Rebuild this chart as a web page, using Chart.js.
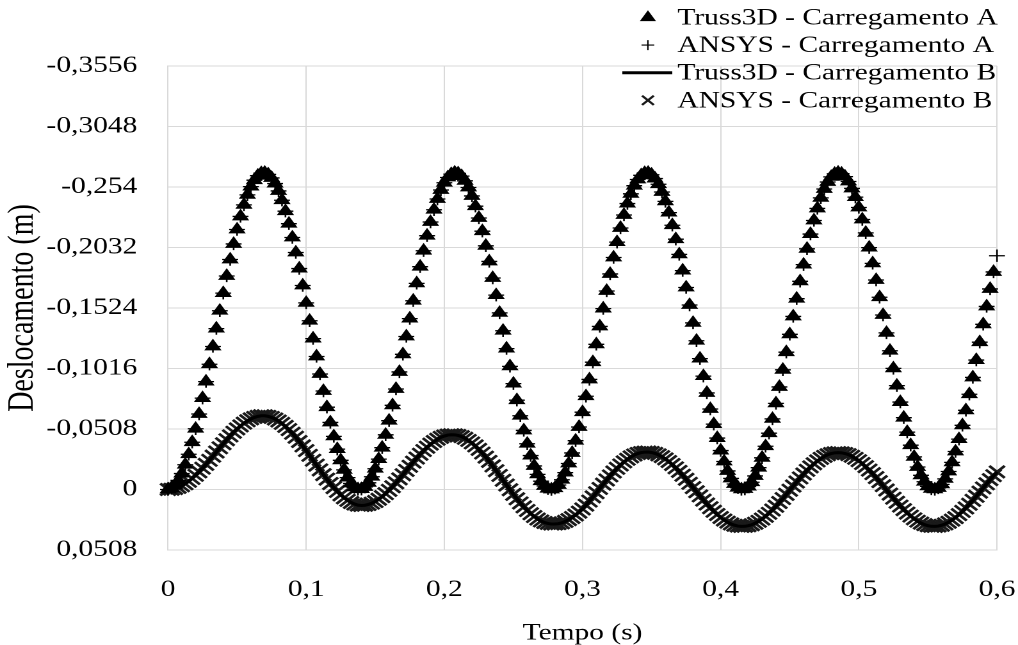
<!DOCTYPE html>
<html lang="pt">
<head>
<meta charset="utf-8">
<title>Deslocamento x Tempo</title>
<script src="https://cdn.jsdelivr.net/npm/chart.js@4.4.1/dist/chart.umd.min.js"></script>
<style>
  html, body { margin: 0; padding: 0; background: #fff; overflow: hidden; }
  /* the chart is laid out at 795 px and widened to the full 1018 px page */
  #quadro {
    position: absolute; left: 0; top: 0;
    width: 795px; height: 645px;
    transform: scaleX(1.2805); transform-origin: 0 0;
  }
</style>
</head>
<body>
<div id="quadro"><canvas id="grafico"></canvas></div>
<script>
// time step of the sampled responses (s)
const PASSO = 0.0025;

// vertical displacement (m), load case A, one value per time step from 0 to 0.6 s
const dispA = [
  0, -0.0009, -0.0034, -0.0076, -0.0134, -0.0208, -0.0296, -0.0397, -0.0510, -0.0634,
  -0.0767, -0.0906, -0.1052, -0.1201, -0.1351, -0.1501, -0.1649, -0.1793, -0.1931, -0.2062,
  -0.2183, -0.2293, -0.2390, -0.2474, -0.2543, -0.2597, -0.2635, -0.2656, -0.2659, -0.2646,
  -0.2616, -0.2569, -0.2507, -0.2429, -0.2337, -0.2232, -0.2116, -0.1990, -0.1855, -0.1713,
  -0.1567, -0.1417, -0.1267, -0.1117, -0.0970, -0.0827, -0.0691, -0.0563, -0.0446, -0.0339,
  -0.0245, -0.0165, -0.0100, -0.0051, -0.0018, -0.0002, -0.0003, -0.0021, -0.0056, -0.0107,
  -0.0174, -0.0255, -0.0351, -0.0459, -0.0578, -0.0707, -0.0844, -0.0987, -0.1135, -0.1285,
  -0.1435, -0.1585, -0.1731, -0.1871, -0.2005, -0.2131, -0.2246, -0.2349, -0.2439, -0.2515,
  -0.2576, -0.2620, -0.2648, -0.2660, -0.2654, -0.2631, -0.2592, -0.2536, -0.2465, -0.2379,
  -0.2280, -0.2169, -0.2046, -0.1915, -0.1776, -0.1632, -0.1483, -0.1333, -0.1183, -0.1034,
  -0.0889, -0.0750, -0.0619, -0.0496, -0.0384, -0.0285, -0.0198, -0.0127, -0.0070, -0.0030,
  -0.0007, 0.0000, -0.0011, -0.0038, -0.0082, -0.0142, -0.0218, -0.0307, -0.0410, -0.0525,
  -0.0649, -0.0783, -0.0924, -0.1069, -0.1219, -0.1369, -0.1519, -0.1667, -0.1810, -0.1948,
  -0.2077, -0.2196, -0.2305, -0.2401, -0.2483, -0.2551, -0.2603, -0.2638, -0.2657, -0.2659,
  -0.2643, -0.2611, -0.2563, -0.2498, -0.2419, -0.2325, -0.2219, -0.2102, -0.1974, -0.1838,
  -0.1696, -0.1549, -0.1399, -0.1249, -0.1099, -0.0952, -0.0811, -0.0676, -0.0549, -0.0432,
  -0.0327, -0.0235, -0.0156, -0.0093, -0.0046, -0.0015, -0.0001, -0.0004, -0.0024, -0.0061,
  -0.0114, -0.0183, -0.0266, -0.0363, -0.0473, -0.0593, -0.0723, -0.0861, -0.1005, -0.1153,
  -0.1303, -0.1453, -0.1602, -0.1748, -0.1888, -0.2021, -0.2145, -0.2259, -0.2360, -0.2449,
  -0.2523, -0.2582, -0.2625, -0.2651, -0.2660, -0.2652, -0.2627, -0.2586, -0.2528, -0.2455,
  -0.2368, -0.2267, -0.2155, -0.2031, -0.1899, -0.1759, -0.1614, -0.1465, -0.1315, -0.1165,
  -0.1017, -0.0872, -0.0734, -0.0603, -0.0482, -0.0372, -0.0274, -0.0189, -0.0119, -0.0065,
  -0.0026, -0.0005, -0.0001, -0.0013, -0.0043, -0.0089, -0.0151, -0.0228, -0.0319, -0.0423,
  -0.0539, -0.0665, -0.0800, -0.0941, -0.1087, -0.1237, -0.1387, -0.1537, -0.1684, -0.1827,
  -0.1963
];

// vertical displacement (m), load case B, same time steps
const dispB = [
  0, -0.0002, -0.0008, -0.0018, -0.0031, -0.0048, -0.0069, -0.0093, -0.0119, -0.0148,
  -0.0179, -0.0211, -0.0245, -0.0280, -0.0315, -0.0350, -0.0384, -0.0418, -0.0450, -0.0481,
  -0.0509, -0.0534, -0.0557, -0.0577, -0.0593, -0.0605, -0.0614, -0.0619, -0.0619, -0.0614,
  -0.0605, -0.0592, -0.0575, -0.0555, -0.0530, -0.0503, -0.0472, -0.0439, -0.0403, -0.0366,
  -0.0327, -0.0287, -0.0246, -0.0205, -0.0165, -0.0125, -0.0087, -0.0050, -0.0016, 0.0016,
  0.0045, 0.0070, 0.0091, 0.0109, 0.0122, 0.0131, 0.0134, 0.0132, 0.0126, 0.0115,
  0.0101, 0.0082, 0.0060, 0.0035, 0.0007, -0.0023, -0.0056, -0.0089, -0.0124, -0.0160,
  -0.0195, -0.0230, -0.0264, -0.0296, -0.0327, -0.0355, -0.0381, -0.0403, -0.0422, -0.0438,
  -0.0449, -0.0457, -0.0460, -0.0459, -0.0454, -0.0444, -0.0430, -0.0412, -0.0391, -0.0366,
  -0.0337, -0.0306, -0.0272, -0.0236, -0.0198, -0.0158, -0.0118, -0.0078, -0.0038, 0.0002,
  0.0041, 0.0078, 0.0113, 0.0146, 0.0176, 0.0204, 0.0227, 0.0248, 0.0264, 0.0277,
  0.0285, 0.0290, 0.0290, 0.0287, 0.0280, 0.0268, 0.0253, 0.0235, 0.0214, 0.0190,
  0.0163, 0.0131, 0.0097, 0.0062, 0.0027, -0.0009, -0.0045, -0.0080, -0.0114, -0.0147,
  -0.0178, -0.0206, -0.0232, -0.0254, -0.0274, -0.0290, -0.0302, -0.0310, -0.0314, -0.0315,
  -0.0311, -0.0303, -0.0291, -0.0276, -0.0257, -0.0235, -0.0210, -0.0182, -0.0152, -0.0120,
  -0.0086, -0.0052, -0.0016, 0.0019, 0.0054, 0.0089, 0.0122, 0.0153, 0.0183, 0.0210,
  0.0235, 0.0256, 0.0274, 0.0289, 0.0300, 0.0307, 0.0310, 0.0309, 0.0304, 0.0296,
  0.0283, 0.0267, 0.0248, 0.0225, 0.0200, 0.0172, 0.0141, 0.0109, 0.0076, 0.0041,
  0.0006, -0.0029, -0.0063, -0.0097, -0.0130, -0.0161, -0.0190, -0.0216, -0.0240, -0.0261,
  -0.0278, -0.0292, -0.0302, -0.0308, -0.0310, -0.0308, -0.0302, -0.0293, -0.0279, -0.0262,
  -0.0242, -0.0218, -0.0192, -0.0163, -0.0133, -0.0100, -0.0066, -0.0032, 0.0004, 0.0039,
  0.0073, 0.0107, 0.0139, 0.0169, 0.0198, 0.0223, 0.0246, 0.0266, 0.0282, 0.0295,
  0.0304, 0.0309, 0.0310, 0.0307, 0.0300, 0.0289, 0.0275, 0.0257, 0.0236, 0.0211,
  0.0184, 0.0155, 0.0124, 0.0091, 0.0057, 0.0022, -0.0013, -0.0048, -0.0083, -0.0116,
  -0.0148
];

// the Truss3D run for case A stops one step before 0.6 s
const nTruss3DA = 240;

// series names
const nomesSeries = [
  'Truss3D - Carregamento A',
  'ANSYS - Carregamento A',
  'Truss3D - Carregamento B',
  'ANSYS - Carregamento B'
];

// axis ticks and their labels
const ticksTempo = [0, 0.1, 0.2, 0.3, 0.4, 0.5, 0.6];
const rotulosTempo = ['0', '0,1', '0,2', '0,3', '0,4', '0,5', '0,6'];
const ticksDesloc = [-0.3556, -0.3048, -0.254, -0.2032, -0.1524, -0.1016, -0.0508, 0, 0.0508];
const rotulosDesloc = ['-0,3556', '-0,3048', '-0,254', '-0,2032', '-0,1524', '-0,1016', '-0,0508', '0', '0,0508'];

// time instants of the samples
const tempo = dispA.map((_, i) => Math.round(i * PASSO * 10000) / 10000);
const pontos = (valores, n) => valores.slice(0, n).map((v, i) => ({ x: tempo[i], y: v }));

const FONTE = '"Liberation Serif", "Times New Roman", serif';
const CINZA_GRADE = '#d9d9d9';

// legend drawn as a list in the upper right corner, overlapping the plot frame
const legendaSeries = {
  id: 'legendaSeries',
  afterDraw(chart) {
    const ctx = chart.ctx;
    const xMarca = 506, xLinha0 = 486, xLinha1 = 525, xTexto = 529;
    const y0 = 17.5, dy = 27.6;
    ctx.save();
    ctx.font = '23px ' + FONTE;
    ctx.textBaseline = 'middle';
    ctx.textAlign = 'left';
    chart.data.datasets.forEach((ds, k) => {
      const y = y0 + k * dy;
      ctx.fillStyle = '#000';
      ctx.strokeStyle = ds.borderColor;
      if (ds.showLine) {
        ctx.lineWidth = ds.borderWidth;
        ctx.beginPath();
        ctx.moveTo(xLinha0, y);
        ctx.lineTo(xLinha1, y);
        ctx.stroke();
      } else {
        ctx.lineWidth = ds.legendBorder;
        ctx.fillStyle = ds.pointBackgroundColor;
        Chart.helpers.drawPoint(ctx, {
          pointStyle: ds.pointStyle,
          radius: ds.legendRadius,
          borderWidth: ds.legendBorder,
          rotation: 0
        }, xMarca, y);
      }
      ctx.fillStyle = '#000';
      ctx.fillText(ds.label, xTexto, y + 1);
    });
    ctx.restore();
  }
};

// keep the plot frame independent of the edge tick labels
const semFolgaRotulos = s => { s.paddingLeft = 0; s.paddingRight = 0; s.paddingTop = 0; s.paddingBottom = 0; };

new Chart(document.getElementById('grafico'), {
  type: 'line',
  data: {
    datasets: [
      {
        label: nomesSeries[0],
        data: pontos(dispA, nTruss3DA),
        showLine: false,
        pointStyle: 'triangle',
        pointRadius: 6.8,
        legendRadius: 6.3,
        legendBorder: 1,
        pointBackgroundColor: '#000',
        pointBorderColor: '#000',
        borderColor: '#000',
        pointBorderWidth: 1,
        clip: false
      },
      {
        label: nomesSeries[1],
        data: pontos(dispA, dispA.length),
        showLine: false,
        pointStyle: 'cross',
        pointRadius: 6.2,
        legendRadius: 5,
        legendBorder: 1.1,
        pointBackgroundColor: '#000',
        pointBorderColor: '#000',
        borderColor: '#000',
        pointBorderWidth: 1.3,
        clip: false
      },
      {
        label: nomesSeries[2],
        data: pontos(dispB, dispB.length),
        showLine: true,
        borderColor: '#000',
        borderWidth: 3,
        pointRadius: 0,
        tension: 0,
        clip: false
      },
      {
        label: nomesSeries[3],
        data: pontos(dispB, dispB.length),
        showLine: false,
        pointStyle: 'crossRot',
        pointRadius: 8.5,
        legendRadius: 6.5,
        legendBorder: 2,
        pointBackgroundColor: '#1a1a1a',
        pointBorderColor: '#1a1a1a',
        borderColor: '#1a1a1a',
        pointBorderWidth: 2.4,
        clip: false
      }
    ]
  },
  options: {
    responsive: true,
    maintainAspectRatio: false,
    devicePixelRatio: 2,
    animation: false,
    events: [],
    layout: { padding: { left: 0, right: 16.4, top: 66, bottom: 0 } },
    plugins: {
      legend: { display: false },
      tooltip: { enabled: false }
    },
    scales: {
      x: {
        type: 'linear',
        min: 0,
        max: 0.6,
        afterBuildTicks: s => { s.ticks = ticksTempo.map(v => ({ value: v })); },
        afterFit: s => { s.height = 95; semFolgaRotulos(s); },
        grid: { color: CINZA_GRADE, lineWidth: 1, drawTicks: false },
        border: { color: CINZA_GRADE, width: 1 },
        ticks: {
          autoSkip: false,
          maxRotation: 0,
          padding: 26,
          color: '#000',
          font: { family: FONTE, size: 23 },
          callback: (v, i) => rotulosTempo[i]
        },
        title: {
          display: true,
          text: 'Tempo (s)',
          color: '#000',
          font: { family: FONTE, size: 23, lineHeight: 1 },
          padding: { top: 0, bottom: 0 }
        }
      },
      y: {
        type: 'linear',
        reverse: true,
        min: -0.3556,
        max: 0.0508,
        afterBuildTicks: s => { s.ticks = ticksDesloc.map(v => ({ value: v })); },
        afterFit: s => { s.width = 131.2; semFolgaRotulos(s); },
        grid: { color: CINZA_GRADE, lineWidth: 1, drawTicks: false },
        border: { color: CINZA_GRADE, width: 1 },
        ticks: {
          padding: 24,
          color: '#000',
          font: { family: FONTE, size: 23 },
          callback: (v, i) => rotulosDesloc[i]
        },
        title: {
          display: true,
          text: 'Deslocamento (m)',
          color: '#000',
          font: { family: FONTE, size: 28, lineHeight: 1 },
          padding: { top: 4, bottom: 0 }
        }
      }
    }
  },
  plugins: [legendaSeries]
});
</script>
</body>
</html>
